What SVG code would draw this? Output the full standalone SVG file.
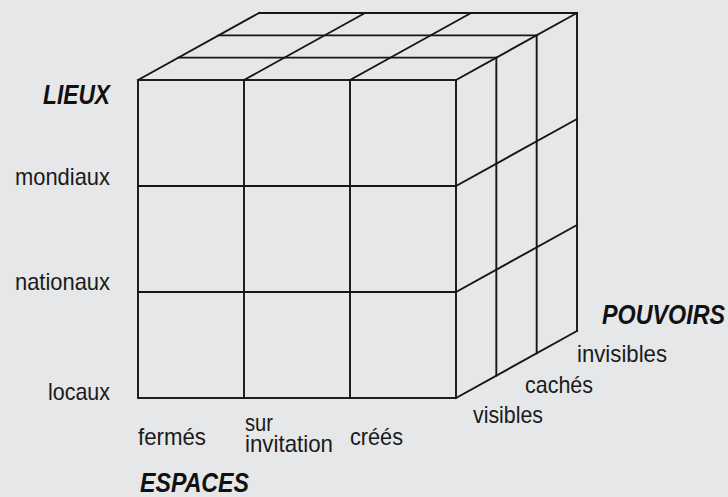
<svg xmlns="http://www.w3.org/2000/svg" width="728" height="497" viewBox="0 0 728 497">
<style>
.ln{stroke:#161616;stroke-width:1.9;fill:none;stroke-linecap:square}
.lb{font-family:"Liberation Sans",Arial,sans-serif;font-size:24px;fill:#1a1a1a}
.ax{font-family:"Liberation Sans",Arial,sans-serif;font-size:27px;font-weight:bold;font-style:italic;fill:#111}
</style>
<rect width="728" height="497" fill="#e6e7e8"/>
<g id="cube">
<g id="front" class="ln">
<rect x="138" y="80" width="318" height="318"/>
<path d="M244 80V398M350 80V398M138 186H456M138 292H456"/>
</g>
<g id="top" class="ln">
<path d="M138 80L259 13M244 80L365 13M350 80L471 13M456 80L577 13"/>
<path d="M178.33 57.67H496.33M218.67 35.33H536.67M259 13H577"/>
</g>
<g id="right" class="ln">
<path d="M496.33 57.67V375.67M536.67 35.33V353.33M577 13V331"/>
<path d="M456 186L577 119M456 292L577 225M456 398L577 331"/>
</g>
</g>
<g id="labels">
<text class="ax" x="110" y="104" text-anchor="end" textLength="67" lengthAdjust="spacingAndGlyphs">LIEUX</text>
<text class="lb" x="110" y="185" text-anchor="end" textLength="95" lengthAdjust="spacingAndGlyphs">mondiaux</text>
<text class="lb" x="110" y="290" text-anchor="end" textLength="95" lengthAdjust="spacingAndGlyphs">nationaux</text>
<text class="lb" x="110" y="400" text-anchor="end" textLength="62" lengthAdjust="spacingAndGlyphs">locaux</text>
<text class="lb" x="138" y="445" textLength="68" lengthAdjust="spacingAndGlyphs">fermés</text>
<text class="lb" x="245" y="431" textLength="28" lengthAdjust="spacingAndGlyphs">sur</text>
<text class="lb" x="245" y="452" textLength="88" lengthAdjust="spacingAndGlyphs">invitation</text>
<text class="lb" x="350" y="445" textLength="53" lengthAdjust="spacingAndGlyphs">créés</text>
<text class="ax" x="140" y="492" textLength="109" lengthAdjust="spacingAndGlyphs">ESPACES</text>
<text class="lb" x="473" y="423" textLength="70" lengthAdjust="spacingAndGlyphs">visibles</text>
<text class="lb" x="525" y="393" textLength="68" lengthAdjust="spacingAndGlyphs">cachés</text>
<text class="lb" x="577" y="362" textLength="90" lengthAdjust="spacingAndGlyphs">invisibles</text>
<text class="ax" x="602" y="324" textLength="123" lengthAdjust="spacingAndGlyphs">POUVOIRS</text>
</g>
</svg>
